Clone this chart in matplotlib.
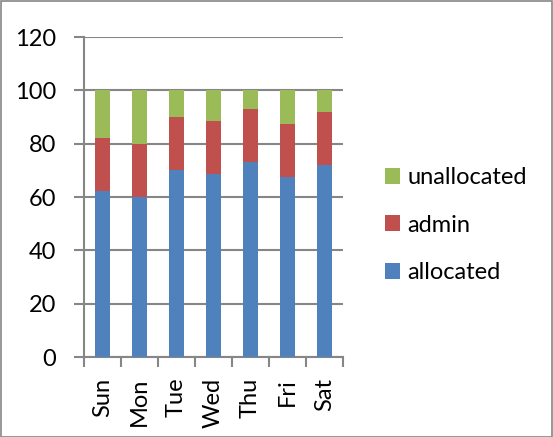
import matplotlib
matplotlib.use("Agg")
import matplotlib.pyplot as plt
from matplotlib.patches import Rectangle
import numpy as np

days = ["Sun", "Mon", "Tue", "Wed", "Thu", "Fri", "Sat"]
allocated = [62.3, 60.0, 70.0, 68.5, 73.0, 67.4, 72.0]
admin = [19.9, 19.8, 20.0, 20.0, 20.0, 19.8, 20.0]
unallocated = [17.8, 20.2, 10.0, 11.5, 7.0, 12.8, 8.0]
y_ticks = [0, 20, 40, 60, 80, 100, 120]

colors = {"allocated": "#4F81BD", "admin": "#C0504D", "unallocated": "#9BBB59"}
grid_color = "#868686"

plt.rcParams["font.family"] = ["Lato", "DejaVu Sans"]
FS = 17

fig = plt.figure(figsize=(5.53, 4.37), dpi=100)
W, H = 553, 437
ax = fig.add_axes([84 / W, 1 - 357 / H, (343 - 84) / W, (357 - 37) / H])

x = np.arange(len(days))
width = 0.4
b1 = ax.bar(x, allocated, width, color=colors["allocated"], label="allocated", zorder=3)
b2 = ax.bar(x, admin, width, bottom=allocated, color=colors["admin"], label="admin", zorder=3)
bottom2 = [a + b for a, b in zip(allocated, admin)]
b3 = ax.bar(x, unallocated, width, bottom=bottom2, color=colors["unallocated"],
            label="unallocated", zorder=3)

ax.set_xlim(-0.5, len(days) - 0.5)
ax.set_ylim(0, 120)
ax.set_yticks(y_ticks)
ax.set_yticklabels([str(v) for v in y_ticks], fontsize=FS)
ax.yaxis.grid(True, color=grid_color, linewidth=1.5, zorder=0)
ax.set_axisbelow(True)

# category labels centred under bars, tick marks on category boundaries
ax.set_xticks(x)
ax.set_xticklabels(days, rotation=90, fontsize=FS)
ax.tick_params(axis="x", length=0, pad=15)
ax.set_xticks(np.arange(-0.5, len(days)), minor=True)
ax.tick_params(axis="x", which="minor", length=7, width=1.5, color=grid_color)
ax.tick_params(axis="y", length=7, width=1.5, color=grid_color, pad=13)

for side in ["top", "right"]:
    ax.spines[side].set_visible(False)
for side in ["left", "bottom"]:
    ax.spines[side].set_color(grid_color)
    ax.spines[side].set_linewidth(1.5)

leg = fig.legend(handles=[b3, b2, b1], labels=["unallocated", "admin", "allocated"],
                 loc="center left", bbox_to_anchor=(385 / W, 1 - 225 / H),
                 frameon=False, fontsize=FS, handlelength=0.65, handleheight=0.65,
                 handletextpad=0.3, labelspacing=1.12, borderpad=0, borderaxespad=0)

fig.patches.append(Rectangle((0.5 / W, 0.5 / H), 1 - 1.5 / W, 1 - 1.5 / H,
                             transform=fig.transFigure, fill=False,
                             edgecolor="#868686", linewidth=1.2))

fig.savefig("out.png", dpi=100)
